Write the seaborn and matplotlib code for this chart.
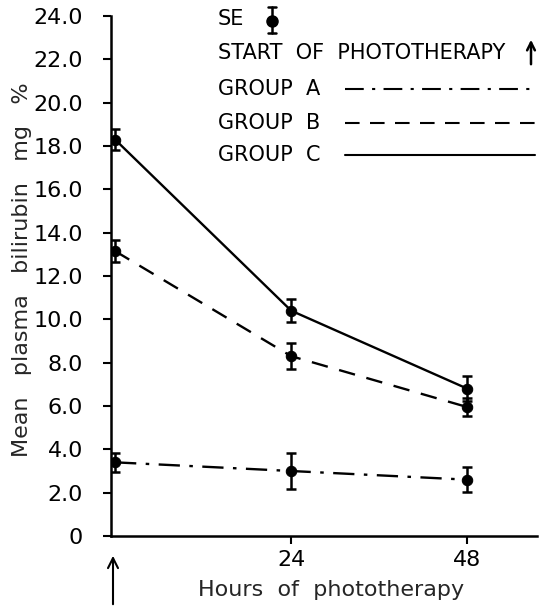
import matplotlib
matplotlib.use("Agg")
import matplotlib.pyplot as plt
from matplotlib.lines import Line2D
from matplotlib.patches import FancyArrowPatch
import pandas as pd
import seaborn as sns

# Hours after start of phototherapy
hours = [0, 24, 48]

# Mean plasma bilirubin (mg %) and standard errors per group
group_a = [3.4, 3.0, 2.6]
group_a_se = [0.45, 0.82, 0.58]
group_b = [13.15, 8.3, 5.95]
group_b_se = [0.5, 0.6, 0.4]
group_c = [18.3, 10.4, 6.8]
group_c_se = [0.5, 0.53, 0.58]

group_names = ["GROUP  A", "GROUP  B", "GROUP  C"]
y_ticks = [0, 2, 4, 6, 8, 10, 12, 14, 16, 18, 20, 22, 24]
y_tick_labels = ["0", "2.0", "4.0", "6.0", "8.0", "10.0", "12.0", "14.0",
                 "16.0", "18.0", "20.0", "22.0", "24.0"]
x_ticks = [24, 48]
x_tick_labels = ["24", "48"]

sns.set_theme(style="ticks")
plt.rcParams["font.family"] = ["DejaVu Sans"]

W, H = 544, 614
fig = plt.figure(figsize=(W / 100, H / 100), dpi=100)


def fx(x):
    return x / W


def fy(y):
    return 1 - y / H


AX_L, AX_R, AX_T, AX_B = 111, 537, 16, 536
ax = fig.add_axes([fx(AX_L), fy(AX_B), fx(AX_R) - fx(AX_L), fy(AX_T) - fy(AX_B)])

df = pd.DataFrame({
    "hours": hours * 3,
    "value": group_a + group_b + group_c,
    "se": group_a_se + group_b_se + group_c_se,
    "group": [g for g in group_names for _ in hours],
})

dashes = {
    group_names[0]: (9, 4, 1.5, 4),
    group_names[1]: (7, 5),
    group_names[2]: "",
}

sns.lineplot(data=df, x="hours", y="value", style="group", dashes=dashes,
             color="black", linewidth=1.7, marker="o", markersize=7.5,
             markeredgecolor="black", legend=False, ax=ax)

for _, sub in df.groupby("group"):
    ax.errorbar(sub["hours"], sub["value"], yerr=sub["se"], fmt="none",
                ecolor="black", elinewidth=1.8, capsize=3.5, capthick=1.8)

ax.set_xlim(-0.55, 57.5)
ax.set_ylim(0, 24)
ax.set_yticks(y_ticks)
ax.set_yticklabels(y_tick_labels)
ax.set_xticks(x_ticks)
ax.set_xticklabels(x_tick_labels)
ax.tick_params(axis="both", direction="out", length=6, width=1.5,
               labelsize=16, colors="black")
ax.tick_params(axis="y", pad=14)
ax.tick_params(axis="x", pad=4)
sns.despine(ax=ax)
for side in ("left", "bottom"):
    ax.spines[side].set_linewidth(1.8)
    ax.spines[side].set_color("black")

ax_w, ax_h = AX_R - AX_L, AX_B - AX_T
ax.set_ylabel("Mean   plasma   bilirubin   mg   %", fontsize=16)
ax.yaxis.set_label_coords((22 - AX_L) / ax_w, (AX_B - 270) / ax_h)
ax.set_xlabel("Hours  of  phototherapy", fontsize=16)
ax.xaxis.set_label_coords((331 - AX_L) / ax_w, (AX_B - 590) / ax_h)
ax.xaxis.label.set_va("center")
ax.yaxis.label.set_va("center")

# Arrow marking the start of phototherapy under the x axis
fig.add_artist(FancyArrowPatch(
    (fx(113), fy(607)), (fx(113), fy(553)), transform=fig.transFigure,
    arrowstyle="->", color="black", lw=1.5, mutation_scale=18))

# Key in the upper right
txt_kw = dict(fontsize=15, color="black", va="center", ha="left")
fig.text(fx(218), fy(19), "SE", **txt_kw)
fig.text(fx(218), fy(53), "START  OF  PHOTOTHERAPY", **txt_kw)
key_rows = [89, 123, 155]
for name, yrow, ls in zip(group_names, key_rows,
                          [(0, (9, 4, 1.5, 4)), (0, (7, 5)), "-"]):
    fig.text(fx(218), fy(yrow), name, **txt_kw)
    fig.add_artist(Line2D([fx(345), fx(535)], [fy(yrow), fy(yrow)],
                          transform=fig.transFigure, color="black",
                          lw=1.5, linestyle=ls))

# SE symbol
fig.add_artist(Line2D([fx(272), fx(272)], [fy(7), fy(33)],
                      transform=fig.transFigure, color="black", lw=1.8))
for yc in (7, 33):
    fig.add_artist(Line2D([fx(268), fx(276)], [fy(yc), fy(yc)],
                          transform=fig.transFigure, color="black", lw=1.8))
fig.add_artist(Line2D([fx(272)], [fy(21)], transform=fig.transFigure,
                      marker="o", markersize=8, color="black"))

# Up arrow after the start label
fig.add_artist(FancyArrowPatch(
    (fx(531), fy(67)), (fx(531), fy(37)), transform=fig.transFigure,
    arrowstyle="->", color="black", lw=1.8, mutation_scale=14))

fig.savefig("out.png", dpi=100, facecolor="white")
